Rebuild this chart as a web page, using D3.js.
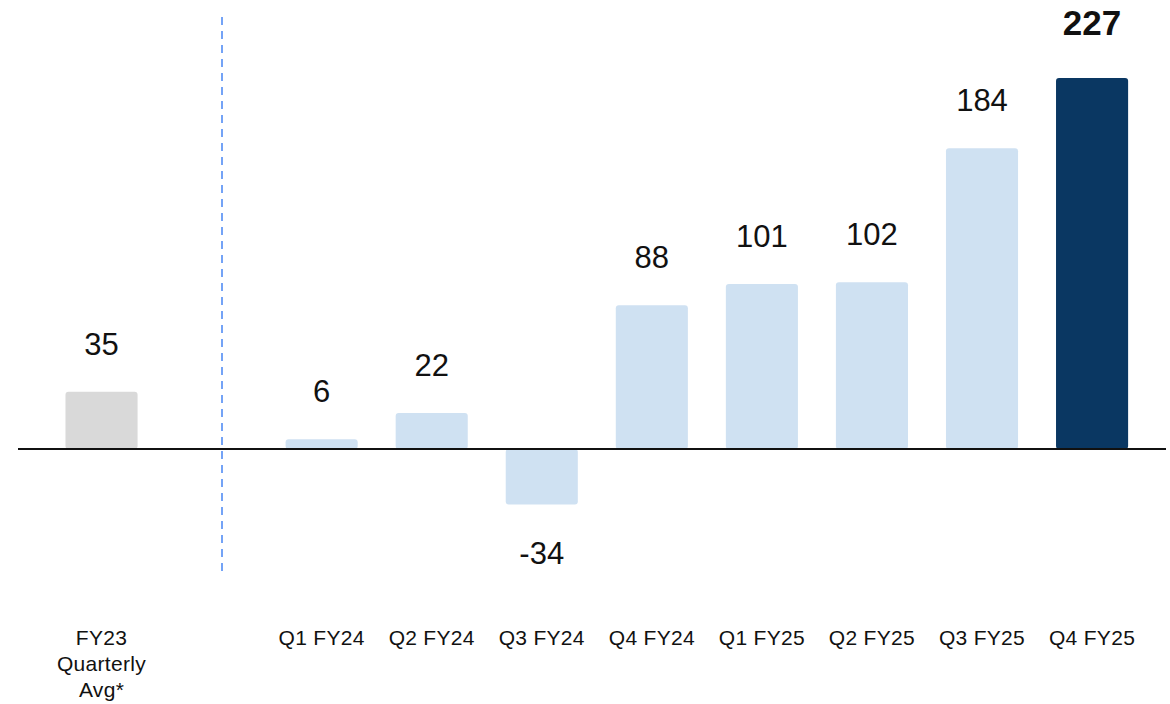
<!DOCTYPE html>
<html>
<head>
<meta charset="utf-8">
<script src="https://cdn.jsdelivr.net/npm/d3@7"></script>
<style>
  html, body { margin: 0; padding: 0; background: #fff; }
  svg { display: block; font-family: "Liberation Sans", Arial, sans-serif; }
</style>
</head>
<body>
<svg id="chart" width="1170" height="704"></svg>
<script>
const categories = ["FY23 Quarterly Avg*", "Q1 FY24", "Q2 FY24", "Q3 FY24", "Q4 FY24", "Q1 FY25", "Q2 FY25", "Q3 FY25", "Q4 FY25"];
const categoryLines = [["FY23", "Quarterly", "Avg*"], ["Q1 FY24"], ["Q2 FY24"], ["Q3 FY24"], ["Q4 FY24"], ["Q1 FY25"], ["Q2 FY25"], ["Q3 FY25"], ["Q4 FY25"]];
const values = [35, 6, 22, -34, 88, 101, 102, 184, 227];
const barKinds = ["avg", "q", "q", "q", "q", "q", "q", "q", "latest"];

const colors = { avg: "#d9d9d9", q: "#cfe1f2", latest: "#0a3762" };

const svg = d3.select("#chart");

// band domain with an empty slot after the average bar
const slots = [categories[0], "__gap__", ...categories.slice(1)];
const x = d3.scaleBand()
  .domain(slots)
  .range([46.5, 1147.1])
  .paddingInner(0.345)
  .paddingOuter(0.1725);

const y = d3.scaleLinear()
  .domain([-34, 227])
  .range([504.6, 78]);

const data = categories.map((c, i) => ({ c, v: values[i], kind: barKinds[i], lines: categoryLines[i] }));

// dashed separator
svg.append("line")
  .attr("x1", 222).attr("x2", 222)
  .attr("y1", 17).attr("y2", 573)
  .attr("stroke", "#74a3f6")
  .attr("stroke-width", 2)
  .attr("stroke-dasharray", "8 6");

// bars
svg.append("g").selectAll("rect")
  .data(data)
  .join("rect")
  .attr("x", d => x(d.c))
  .attr("width", x.bandwidth())
  .attr("y", d => Math.min(y(d.v), y(0)))
  .attr("height", d => Math.abs(y(d.v) - y(0)))
  .attr("rx", 3).attr("ry", 3)
  .attr("fill", d => colors[d.kind]);

// baseline
svg.append("line")
  .attr("x1", 18).attr("x2", 1166)
  .attr("y1", y(0)).attr("y2", y(0))
  .attr("stroke", "#111")
  .attr("stroke-width", 2);

// value labels
svg.append("g").selectAll("text")
  .data(data)
  .join("text")
  .attr("x", d => x(d.c) + x.bandwidth() / 2)
  .attr("y", d => d.v >= 0 ? y(d.v) - (d.kind === "latest" ? 43 : 37) : y(d.v) + 59)
  .attr("text-anchor", "middle")
  .attr("font-size", d => d.kind === "latest" ? 35 : 31)
  .attr("font-weight", d => d.kind === "latest" ? "bold" : "normal")
  .attr("fill", "#111")
  .text(d => d.v);

// category labels
const cat = svg.append("g").selectAll("text")
  .data(data)
  .join("text")
  .attr("x", d => x(d.c) + x.bandwidth() / 2)
  .attr("y", 645)
  .attr("text-anchor", "middle")
  .attr("font-size", 21)
  .attr("letter-spacing", 0.3)
  .attr("fill", "#111");
cat.selectAll("tspan")
  .data(d => d.lines.map(l => ({ l, cx: x(d.c) + x.bandwidth() / 2 })))
  .join("tspan")
  .attr("x", t => t.cx)
  .attr("dy", (t, i) => i === 0 ? 0 : 26)
  .text(t => t.l);
</script>
</body>
</html>
